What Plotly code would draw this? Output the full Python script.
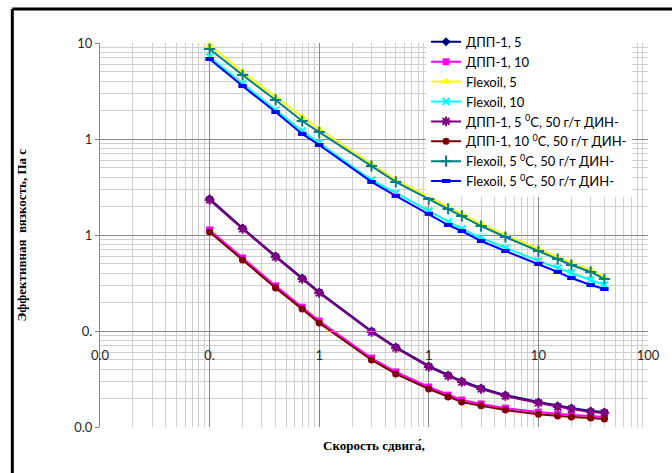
import plotly.graph_objects as go

# Shear rate, 1/s
shear_rate = [0.1, 0.2, 0.4, 0.7, 1, 3, 5, 10, 15, 20, 30, 50, 100, 150, 200, 300, 400]

# Effective viscosity, Pa*s
dpp1_5 = [2.38, 1.18, 0.604, 0.356, 0.255, 0.100, 0.0681, 0.0432, 0.0348, 0.0301,
          0.0255, 0.0215, 0.0182, 0.0166, 0.0158, 0.0147, 0.0143]
dpp1_10 = [1.13, 0.577, 0.295, 0.177, 0.127, 0.0523, 0.0375, 0.0261, 0.0215, 0.0191,
           0.0174, 0.0157, 0.0143, 0.0136, 0.0133, 0.0130, 0.0127]
flexoil_5 = [95.3, 49.9, 27.4, 16.9, 12.7, 5.49, 3.74, 2.49, 1.96, 1.66,
             1.30, 1.00, 0.714, 0.590, 0.511, 0.431, 0.365]
flexoil_10 = [71.5, 37.4, 20.0, 12.1, 9.09, 3.74, 2.74, 1.78, 1.36, 1.155,
              0.931, 0.733, 0.536, 0.453, 0.402, 0.340, 0.301]
dpp1_5_din = [2.32, 1.155, 0.590, 0.348, 0.249, 0.0977, 0.0665, 0.0422, 0.0340, 0.0294,
              0.0249, 0.0210, 0.0178, 0.0162, 0.0154, 0.0143, 0.0140]
dpp1_10_din = [1.075, 0.550, 0.281, 0.169, 0.121, 0.0499, 0.0357, 0.0249, 0.0205, 0.0182,
               0.0166, 0.0150, 0.0136, 0.0130, 0.0127, 0.0124, 0.0121]
flexoil_5_din = [86.6, 46.4, 25.5, 15.4, 11.8, 5.23, 3.57, 2.37, 1.87, 1.58,
                 1.24, 0.953, 0.681, 0.562, 0.487, 0.412, 0.348]
flexoil_5_din_b = [68.1, 35.6, 19.1, 11.3, 8.66, 3.57, 2.55, 1.66, 1.27, 1.10,
                   0.866, 0.681, 0.499, 0.412, 0.356, 0.301, 0.274]

series_names = [
    "ДПП-1, 5",
    "ДПП-1, 10",
    "Flexoil, 5",
    "Flexoil, 10",
    "ДПП-1, 5 <sup>0</sup>C, 50 г/т ДИН-",
    "ДПП-1, 10 <sup>0</sup>C, 50 г/т ДИН-",
    "Flexoil, 5 <sup>0</sup>C, 50 г/т ДИН-",
    "Flexoil, 5 <sup>0</sup>C, 50 г/т ДИН-",
]

x_tickvals = [0.01, 0.1, 1, 10, 100, 1000]
x_ticktext = ["0.0", "0.", "1", "1", "10", "100"]
y_tickvals = [0.01, 0.1, 1, 10, 100]
y_ticktext = ["0.0", "0.", "1", "1", "10"]

x_title = "Скорость сдвига\u0301,"
y_title = "Эффективная  вязкость, Па с"

styles = [
    dict(color="#000080", symbol="diamond", size=7, lw=0),
    dict(color="#FF00FF", symbol="square", size=7, lw=0),
    dict(color="#FFFF00", symbol="triangle-up", size=8, lw=0),
    dict(color="#00FFFF", symbol="x-thin", size=7, lw=2),
    dict(color="#800080", symbol="asterisk", size=8, lw=2),
    dict(color="#800000", symbol="circle", size=7, lw=0),
    dict(color="#008080", symbol="cross-thin", size=8, lw=2),
    dict(color="#0000FF", symbol="line-ew", size=6, lw=4),
]
values = [dpp1_5, dpp1_10, flexoil_5, flexoil_10,
          dpp1_5_din, dpp1_10_din, flexoil_5_din, flexoil_5_din_b]

fig = go.Figure()
for name, vals, st in zip(series_names, values, styles):
    marker = dict(color=st["color"], symbol=st["symbol"], size=st["size"])
    if st["lw"]:
        marker["line"] = dict(color=st["color"], width=st["lw"])
    else:
        marker["line"] = dict(width=0)
    fig.add_trace(go.Scatter(
        x=shear_rate, y=vals, name=name, mode="lines+markers",
        line=dict(color=st["color"], width=2),
        marker=marker,
    ))


def minor_vals(lo, hi):
    out = []
    for e in range(lo, hi):
        for k in range(2, 10):
            out.append(k * 10 ** e)
    return out


major_grid = "#878787"
minor_grid = "#cfcfcf"
tick_font = dict(family="Lato, Liberation Sans, sans-serif", size=13, color="#262626")

fig.update_xaxes(
    type="log", range=[-2, 3],
    tickmode="array", tickvals=x_tickvals, ticktext=x_ticktext,
    showgrid=True, gridcolor=major_grid, gridwidth=1,
    minor=dict(tickmode="array", tickvals=minor_vals(-2, 3), showgrid=True,
               gridcolor=minor_grid, gridwidth=1, ticks=""),
    anchor="free", position=0.25,
    showline=True, linecolor=major_grid, linewidth=1,
    ticks="", ticklabelstandoff=12,
    tickfont=tick_font, zeroline=False,
)
fig.update_yaxes(
    type="log", range=[-2, 2],
    tickmode="array", tickvals=y_tickvals, ticktext=y_ticktext,
    showgrid=True, gridcolor=major_grid, gridwidth=1,
    minor=dict(tickmode="array", tickvals=minor_vals(-2, 2), showgrid=True,
               gridcolor=minor_grid, gridwidth=1, ticks=""),
    showline=True, linecolor=major_grid, linewidth=1,
    ticks="outside", ticklen=4, tickcolor=major_grid,
    tickfont=tick_font, zeroline=False,
)

fig.add_annotation(
    text="<b>" + y_title + "</b>", textangle=-90,
    xref="paper", yref="paper", x=-0.145, y=0.5,
    xanchor="center", yanchor="middle", showarrow=False,
    font=dict(family="Liberation Serif, Times New Roman, serif", size=13, color="#000000"),
)
fig.add_annotation(
    text="<b>" + x_title + "</b>",
    xref="paper", yref="paper", x=0.5, y=-0.047,
    xanchor="center", yanchor="middle", showarrow=False,
    font=dict(family="Liberation Serif, Times New Roman, serif", size=13, color="#000000"),
)

# chart frame (left and top edges)
fig.add_shape(type="line", xref="paper", yref="paper",
              x0=-0.16, y0=1.0885, x1=1.05, y1=1.0885,
              line=dict(color="#000000", width=3))
fig.add_shape(type="line", xref="paper", yref="paper",
              x0=-0.16, y0=1.0885, x1=-0.16, y1=-0.13,
              line=dict(color="#000000", width=3))

fig.update_layout(
    width=672, height=473,
    margin=dict(l=100, r=22, t=43, b=46),
    paper_bgcolor="#FFFFFF", plot_bgcolor="#FFFFFF",
    showlegend=True,
    legend=dict(
        x=0.595, y=1.042, xanchor="left", yanchor="top",
        bgcolor="#FFFFFF", borderwidth=0,
        font=dict(family="Lato, Liberation Sans, sans-serif", size=13, color="#000000"),
        tracegroupgap=0, itemwidth=30,
    ),
)

fig.write_html("out.html")
